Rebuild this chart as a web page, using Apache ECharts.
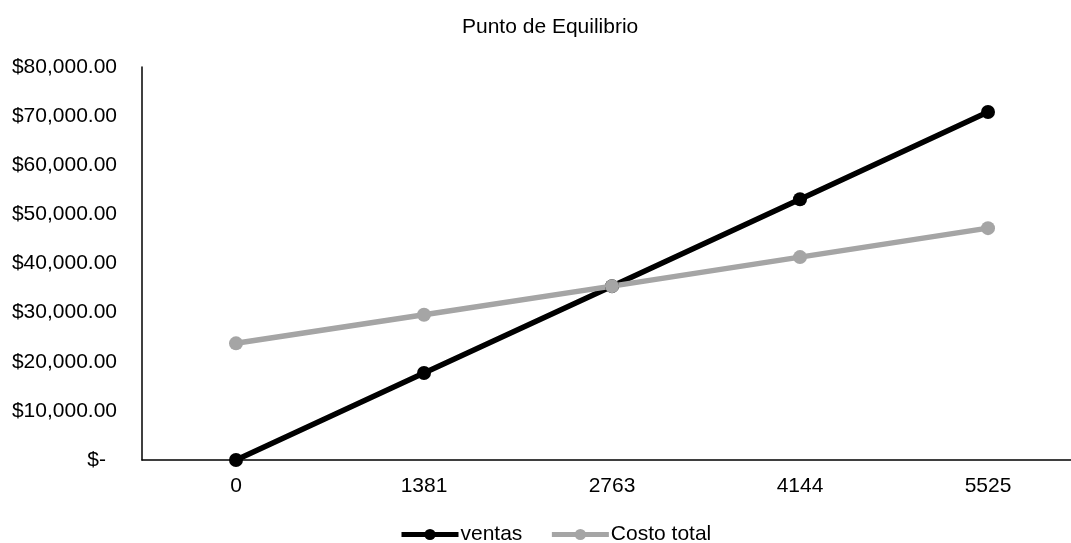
<!DOCTYPE html>
<html>
<head>
<meta charset="utf-8">
<style>
  html, body { margin: 0; padding: 0; background: #fff; }
  #chart { width: 1071px; height: 543px; }
</style>
<script src="https://cdn.jsdelivr.net/npm/echarts@6/dist/echarts.min.js"></script>
</head>
<body>
<div id="chart"></div>
<script>
// Unidades vendidas (eje X)
const unidades = ['0', '1381', '2763', '4144', '5525'];
// Ingresos por ventas
const ventas = [0, 17700, 35390, 53080, 70850];
// Costo total = costo fijo + costo variable
const costoTotal = [23750, 29570, 35390, 41300, 47200];

const FONT = '"Liberation Sans", Arial, sans-serif';

function moneda(v) {
  if (v === 0) return '{z|$-}';
  return '$' + v.toLocaleString('en-US', { minimumFractionDigits: 2, maximumFractionDigits: 2 });
}

const chart = echarts.init(document.getElementById('chart'), null, { renderer: 'canvas' });
chart.setOption({
  animation: false,
  backgroundColor: '#ffffff',
  textStyle: { fontFamily: FONT },
  title: {
    text: 'Punto de Equilibrio',
    left: 457,
    top: 12,
    textStyle: { fontFamily: FONT, fontSize: 21, fontWeight: 'normal', color: '#000' }
  },
  legend: {
    left: 394,
    top: 519,
    padding: 5,
    itemWidth: 57,
    itemHeight: 14,
    itemGap: 27,
    textStyle: { fontFamily: FONT, fontSize: 21, color: '#000', padding: [0, 0, 0, -3] },
    data: [
      { name: 'ventas', lineStyle: { width: 5 } },
      { name: 'Costo total', lineStyle: { width: 5 } }
    ]
  },
  grid: { left: 142, top: 67, width: 940, height: 393, containLabel: false, outerBoundsMode: 'none' },
  xAxis: {
    type: 'category',
    data: unidades,
    boundaryGap: true,
    axisLine: { lineStyle: { color: '#000', width: 1.5 } },
    axisTick: { show: false },
    axisLabel: { fontFamily: FONT, fontSize: 21, color: '#000', margin: 16 }
  },
  yAxis: {
    type: 'value',
    min: 0,
    max: 80000,
    interval: 10000,
    axisLine: { show: true, lineStyle: { color: '#000', width: 1.5 } },
    axisTick: { show: false },
    splitLine: { show: false },
    axisLabel: {
      fontFamily: FONT, fontSize: 21, color: '#000', margin: 25,
      formatter: moneda,
      rich: { z: { fontFamily: FONT, fontSize: 21, color: '#000', padding: [0, 11, 0, 0] } }
    }
  },
  series: [
    {
      name: 'ventas',
      type: 'line',
      data: ventas,
      symbol: 'circle',
      symbolSize: 14,
      color: '#000000',
      lineStyle: { color: '#000000', width: 5.5 },
      itemStyle: { color: '#000000' }
    },
    {
      name: 'Costo total',
      type: 'line',
      data: costoTotal,
      symbol: 'circle',
      symbolSize: 14,
      color: '#a5a5a5',
      lineStyle: { color: '#a5a5a5', width: 5.5 },
      itemStyle: { color: '#a5a5a5' }
    }
  ]
});
</script>
</body>
</html>
